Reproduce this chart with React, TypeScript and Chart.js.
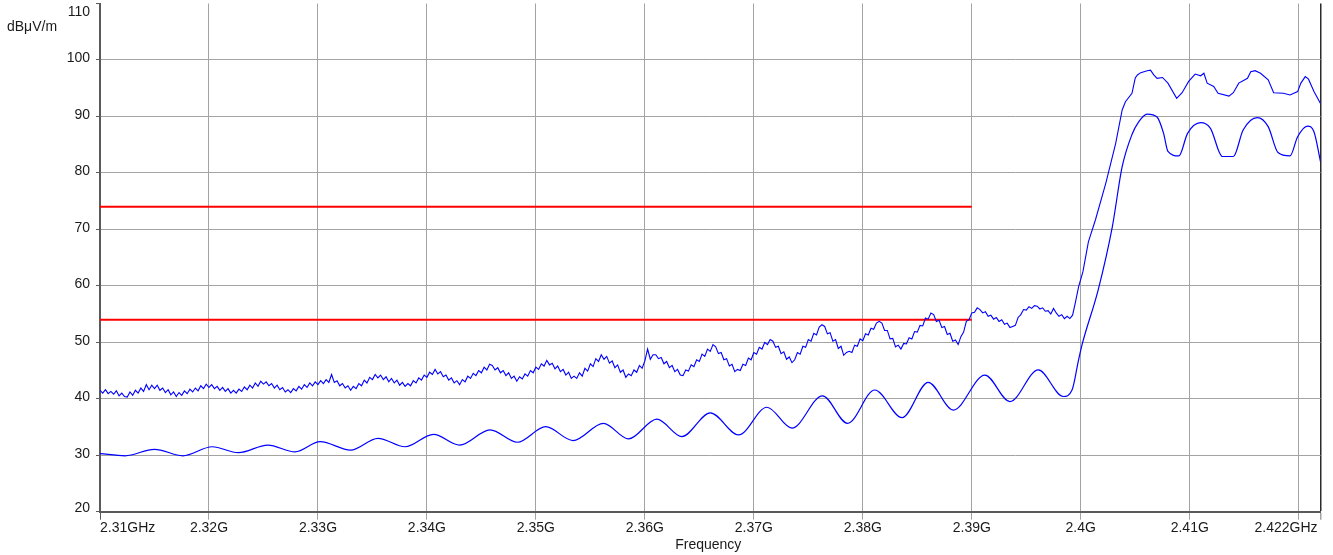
import React, { useEffect, useRef } from "react";
import { Chart, registerables } from "chart.js";

Chart.register(...registerables);

// ---- axis definitions (MHz / dBµV/m) ----
const X_MIN = 2310;
const X_MAX = 2422;
const xTickValues = [2310, 2320, 2330, 2340, 2350, 2360, 2370, 2380, 2390, 2400, 2410, 2420, 2422];
const xTickLabels = ["2.31GHz", "2.32G", "2.33G", "2.34G", "2.35G", "2.36G", "2.37G", "2.38G", "2.39G", "2.4G", "2.41G", "", "2.422GHz"];
const Y_MIN = 20;
const Y_MAX = 110;
const yTickValues = [20, 30, 40, 50, 60, 70, 80, 90, 100, 110];
const yTickLabels = ["20", "30", "40", "50", "60", "70", "80", "90", "100", "110"];
const yUnit = "dBμV/m";
const xTitle = "Frequency";

// ---- limit lines ----
const limitFreq = [2310, 2390];
const peakLimit = 74;
const avgLimit = 54;

// ---- peak detector sweep, 0.25 MHz steps from 2310 MHz ----
const PEAK_START = 2310;
const PEAK_STEP = 0.25;
const peakSweep = [
  41.5, 41.0, 41.6, 40.9, 41.3, 40.8, 41.4, 40.5, 41.0, 40.4,
  40.3, 41.2, 40.6, 41.5, 41.0, 41.9, 41.3, 42.5, 41.6, 42.4,
  41.8, 42.4, 41.5, 41.9, 41.1, 41.6, 40.7, 41.2, 40.4,
  41.1, 40.6, 41.4, 40.9, 41.7, 41.2, 41.9, 41.4, 42.3, 41.8, 42.6,
  42.0, 42.5, 41.8, 42.2, 41.5, 42.0, 41.3, 41.8, 41.0, 41.5,
  41.0, 41.7, 41.3, 42.1, 41.6, 42.4, 41.9, 42.8, 42.2, 43.1,
  42.6, 43.0, 42.3, 42.7, 41.9, 42.4, 41.6, 42.0, 41.2, 41.6,
  41.1, 41.8, 41.4, 42.2, 41.7, 42.5, 42.0, 42.8, 42.3, 43.0, 42.5, 43.2, 42.7, 43.4, 42.9, 44.3,
  42.9, 43.2, 42.3, 42.7, 41.9, 42.3, 41.5,
  42.2, 41.8, 42.7, 42.3, 43.3, 42.8, 43.8, 43.4, 44.3,
  43.7, 44.2, 43.4, 43.9, 43.0, 43.6, 42.8, 43.3, 42.4, 42.9, 42.2,
  42.7, 42.3, 43.2, 42.8, 43.7, 43.3, 44.2, 43.8, 44.7, 44.3, 45.2,
  44.4, 44.8, 43.9, 44.2, 43.3, 43.7, 42.8, 43.2,
  42.5, 43.4, 43.0, 44.0, 43.6, 44.5, 44.1, 45.0, 44.6, 45.6, 45.1, 46.1,
  45.9, 45.1, 45.5, 44.6, 45.0, 44.1, 44.6, 43.6, 44.0, 43.1,
  43.9, 43.5, 44.4, 44.0, 45.0, 44.6, 45.6, 45.2, 46.2, 45.8,
  46.8, 46.0, 46.3, 45.3, 45.8, 44.8, 45.2, 44.2, 44.7, 43.6, 44.0,
  43.6, 44.6, 44.0, 45.4, 44.9, 46.2, 45.7, 47.1, 46.6, 47.8,
  47.0, 47.5, 46.3, 46.7, 45.5, 46.0, 44.7, 45.1, 43.8, 44.4,
  44.1, 45.1, 44.7, 45.9, 45.4, 46.7, 48.8, 47.0, 47.8,
  47.8, 47.1, 47.3, 46.2, 46.6, 45.5, 45.9, 44.8, 45.2, 44.2,
  44.1, 45.1, 44.9, 46.0, 45.7, 46.9, 46.6, 47.9, 47.5, 48.8, 48.4, 49.6,
  49.2, 48.0, 48.2, 46.9, 47.1, 45.8, 46.1, 44.8, 45.2,
  45.0, 46.1, 45.9, 47.2, 46.9, 48.2, 47.9, 49.1, 48.8, 50.0, 49.6, 50.5,
  50.2, 49.1, 49.3, 48.0, 48.3, 47.0, 47.4, 46.4,
  46.9, 48.2, 47.9, 49.3, 49.1, 50.5, 50.2, 51.6, 51.3, 52.7, 53.1,
  52.8, 51.5, 51.7, 50.2, 50.5, 48.9, 49.3, 47.7, 48.2,
  48.4, 48.2, 49.5, 49.3, 50.6, 50.3, 51.5, 51.3, 52.5, 52.3, 53.4, 53.7,
  53.4, 52.1, 52.1, 50.6, 50.7, 49.2, 49.5,
  48.8, 49.8, 49.7, 50.8, 50.6, 51.9, 51.8, 53.0, 52.9, 54.3, 54.1, 55.2,
  54.9, 53.7, 53.9, 52.6, 52.8, 51.4, 51.6, 50.2, 50.4, 49.6,
  51.0, 51.8, 53.7, 54.0, 55.2, 55.3, 56.1,
  55.8, 55.2, 55.4, 54.6, 54.8, 54.1, 54.4, 53.7, 54.0, 53.2, 53.4, 52.6, 52.8,
  53.0, 54.4, 54.9, 55.8, 55.7, 56.3, 56.0, 56.5,
  56.4, 55.9, 56.1, 55.5, 55.6, 55.0, 56.0, 55.2, 54.6, 54.9, 54.2,
  54.6, 54.2, 54.8, 57.0,
];

// ---- peak detector, band edge and in-band part ----
const peakEdgeFreq = [
  2399.8, 2400.2, 2400.7, 2401.35, 2402.3, 2403.2, 2403.8, 2404.1, 2404.7, 2405.0,
  2405.2, 2405.5, 2406.1, 2406.4, 2406.7, 2407.0, 2407.5, 2408.0, 2408.8, 2409.3,
  2409.9, 2410.5, 2411.0, 2411.3, 2411.6, 2412.2, 2412.6, 2413.6, 2414.0, 2414.5,
  2415.3, 2415.6, 2416.0, 2416.5, 2417.2, 2417.7, 2418.6, 2419.2, 2419.9, 2420.2,
  2420.6, 2420.9, 2421.4, 2422.0,
];
const peakEdgeLevel = [
  59.8, 62.5, 67.8, 71.7, 78.2, 85.2, 91.15, 92.6, 94.1, 96.8,
  97.35, 97.75, 98.1, 98.2, 97.35, 96.75, 96.9, 95.9, 93.2, 94.2,
  96.2, 97.5, 97.2, 97.65, 95.9, 95.3, 94.1, 93.6, 94.2, 95.9,
  96.75, 97.9, 98.1, 97.65, 96.5, 94.2, 94.1, 93.8, 94.4, 95.9,
  97.05, 96.6, 94.4, 92.3,
];

// ---- average detector trace ----
const avgFreq = [
  2310.0, 2312.3, 2315.0, 2317.6, 2320.3, 2322.7, 2325.4, 2327.9, 2330.2, 2333.0,
  2335.5, 2338.0, 2340.6, 2343.0, 2345.8, 2348.3, 2350.9, 2353.4, 2356.2, 2358.5,
  2361.1, 2363.4, 2366.0, 2368.6, 2371.2, 2373.5, 2376.3, 2378.6, 2381.1, 2383.6,
  2386.0, 2388.3, 2391.2, 2393.5, 2396.1, 2398.4, 2399.2, 2399.8, 2400.15, 2401.6,
  2402.9, 2403.8, 2404.7, 2405.3, 2406.1, 2407.0, 2407.6, 2408.0, 2409.0, 2409.8,
  2411.0, 2411.9, 2413.0, 2414.0, 2414.9, 2416.2, 2417.2, 2418.1, 2419.2, 2419.9,
  2420.8, 2421.4, 2422.0,
];
const avgLevel = [
  30.3, 29.9, 31.05, 29.9, 31.5, 30.45, 31.8, 30.6, 32.4, 30.9,
  33.0, 31.5, 33.7, 31.8, 34.5, 32.3, 35.05, 32.6, 35.65, 32.9,
  36.4, 33.3, 37.5, 33.6, 38.5, 34.8, 40.5, 35.65, 41.55, 36.65,
  42.9, 38.0, 44.2, 39.5, 45.1, 40.4, 41.55, 46.9, 49.8, 59.3,
  70.5, 81.1, 86.8, 89.0, 90.4, 89.9, 87.0, 83.8, 83.0, 87.0,
  88.9, 87.9, 82.9, 82.9, 87.6, 89.8, 88.2, 83.6, 83.0, 86.4,
  88.3, 87.3, 82.0,
];

const FONT = '14px "Liberation Sans", Arial, Helvetica, sans-serif';
const TEXT = "#1a1a1a";
const GRID = "#a3a3a3";
const AXIS = "#5a5a5a";
const TRACE = "#0000ff";
const LIMIT = "#ff0000";

const labelPlugin = {
  id: "emcLabels",
  afterDraw(chart: any) {
    const { ctx, chartArea, scales } = chart;
    const xs = scales.x;
    const ys = scales.y;
    ctx.save();
    ctx.font = FONT;
    ctx.fillStyle = TEXT;
    ctx.textBaseline = "middle";
    const last = xTickValues.length - 1;
    xTickValues.forEach((v, i) => {
      const label = xTickLabels[i];
      if (!label) return;
      const px = xs.getPixelForValue(v);
      ctx.textAlign = i === 0 ? "left" : i === last ? "right" : "center";
      ctx.fillText(label, i === last ? px - 3 : px, chartArea.bottom + 16.5);
    });
    ctx.textAlign = "right";
    yTickValues.forEach((v, i) => {
      const py = ys.getPixelForValue(v);
      let ty = py - 1.5;
      if (v === Y_MAX) ty = py + 8.5;
      if (v === Y_MIN) ty = py - 3.5;
      ctx.fillText(yTickLabels[i], chartArea.left - 10, ty);
    });
    ctx.textAlign = "left";
    ctx.fillText(yUnit, 7, 27);
    ctx.textAlign = "center";
    ctx.fillText(xTitle, (chartArea.left + chartArea.right) / 2 - 2, 545);
    ctx.restore();
  },
};

export default function App() {
  const canvasRef = useRef<HTMLCanvasElement | null>(null);

  useEffect(() => {
    const canvas = canvasRef.current;
    if (!canvas) return;

    const peakData = peakSweep.map((v, i) => ({ x: PEAK_START + i * PEAK_STEP, y: v }));
    peakEdgeFreq.forEach((f, i) => peakData.push({ x: f, y: peakEdgeLevel[i] }));
    const avgData = avgFreq.map((f, i) => ({ x: f, y: avgLevel[i] }));

    const chart = new Chart(canvas, {
      type: "line",
      data: {
        datasets: [
          {
            label: "Peak",
            data: peakData,
            borderColor: TRACE,
            borderWidth: 1.1,
            pointRadius: 0,
            tension: 0,
            fill: false,
          },
          {
            label: "Average",
            data: avgData,
            borderColor: TRACE,
            borderWidth: 1.2,
            pointRadius: 0,
            cubicInterpolationMode: "monotone",
            fill: false,
          },
          {
            label: "Peak limit",
            data: limitFreq.map((f) => ({ x: f, y: peakLimit })),
            borderColor: LIMIT,
            borderWidth: 2,
            pointRadius: 0,
            fill: false,
          },
          {
            label: "Average limit",
            data: limitFreq.map((f) => ({ x: f, y: avgLimit })),
            borderColor: LIMIT,
            borderWidth: 2,
            pointRadius: 0,
            fill: false,
          },
        ],
      },
      options: {
        animation: false,
        responsive: false,
        events: [],
        layout: { padding: { left: 96, top: 3.5, right: 12.5, bottom: 35.3 } },
        plugins: { legend: { display: false }, tooltip: { enabled: false }, title: { display: false } },
        scales: {
          x: {
            type: "linear",
            min: X_MIN,
            max: X_MAX,
            afterBuildTicks: (scale: any) => {
              scale.ticks = xTickValues.map((v) => ({ value: v }));
            },
            ticks: { display: false },
            grid: {
              drawTicks: true,
              tickLength: 8,
              tickColor: (c: any) => (c.tick && c.tick.value === X_MIN ? AXIS : GRID),
              color: (c: any) => {
                const v = c.tick ? c.tick.value : null;
                if (v === X_MIN) return "rgba(0,0,0,0)";
                if (v === X_MAX) return "#2a2a2a";
                return GRID;
              },
              lineWidth: (c: any) => (c.tick && c.tick.value === X_MAX ? 1.5 : 1),
            },
            border: { display: true, color: AXIS, width: 2 },
          },
          y: {
            type: "linear",
            min: Y_MIN,
            max: Y_MAX,
            afterBuildTicks: (scale: any) => {
              scale.ticks = yTickValues.map((v) => ({ value: v }));
            },
            ticks: { display: false },
            grid: {
              drawTicks: true,
              tickLength: 4,
              tickColor: AXIS,
              color: (c: any) => {
                const v = c.tick ? c.tick.value : null;
                if (v === Y_MIN || v === Y_MAX) return "rgba(0,0,0,0)";
                return GRID;
              },
              lineWidth: 1,
            },
            border: { display: true, color: AXIS, width: 2 },
          },
        },
      },
      plugins: [labelPlugin],
    });

    return () => chart.destroy();
  }, []);

  return (
    <div style={{ position: "absolute", left: 0, top: 0, width: 1333, height: 555, background: "#fff" }}>
      <canvas ref={canvasRef} width={1333} height={555} style={{ display: "block" }} />
    </div>
  );
}
